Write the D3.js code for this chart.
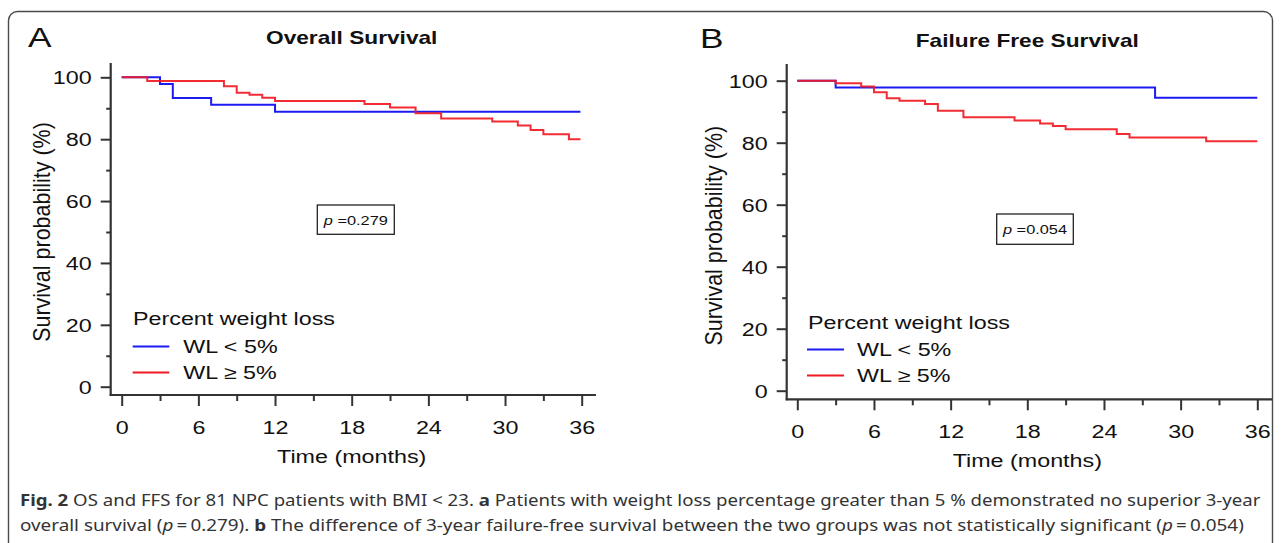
<!DOCTYPE html>
<html><head><meta charset="utf-8">
<script src="https://cdn.jsdelivr.net/npm/d3@7/dist/d3.min.js"></script>
<style>
html,body{margin:0;padding:0;background:#fff;overflow:hidden;}
svg{display:block;}
text{font-family:"Liberation Sans",Arial,Helvetica,sans-serif;fill:#111;}
</style></head><body>
<svg id="c" width="1281" height="543"></svg>
<script>
// ---------------- data ----------------
const timeTicks = [0, 6, 12, 18, 24, 30, 36];
const timeMinor = [3, 9, 15, 21, 27, 33];
const survTicks = [0, 20, 40, 60, 80, 100];
const survMinor = [10, 30, 50, 70, 90];
const groupNames = ["WL < 5%", "WL \u2265 5%"];
const legendTitle = "Percent weight loss";
const panelTitles = ["Overall Survival", "Failure Free Survival"];
const panelLetters = ["A", "B"];
const pValues = ["0.279", "0.054"];

// Overall survival (panel A)
const osLowTime  = [0, 3, 4, 7, 12, 35.9];
const osLowSurv  = [100, 97.8, 93.3, 91.1, 88.9, 88.9];
const osHighTime = [0, 2, 8, 9, 10, 11, 12, 19, 21, 23, 25, 29, 31, 32, 33, 35, 35.9];
const osHighSurv = [100, 98.8, 97.1, 95.0, 94.4, 93.4, 92.3, 91.4, 90.2, 88.4, 86.7, 85.7, 84.4, 83.0, 81.6, 80.0, 80.0];

// Failure free survival (panel B)
const ffsLowTime  = [0, 3, 28, 36];
const ffsLowSurv  = [100, 97.8, 94.5, 94.5];
const ffsHighTime = [0, 3, 5, 6, 7, 8, 10, 11, 13, 17, 19, 20, 21, 25, 26, 32, 36];
const ffsHighSurv = [100, 99.2, 98.1, 96.3, 94.3, 93.5, 92.5, 90.3, 88.2, 87.2, 86.2, 85.4, 84.3, 82.8, 81.7, 80.5, 80.5];

// ---------------- layout ----------------
const SX = 1.26;           // horizontal stretch of the original raster text
const FS = 18.5;           // general font size
const colors = ["#1c1cf2", "#f01a22"];

const panels = [
  { x0: 121.7, x1: 581.7, yTop: 77.3, yBot: 386.7, axisX: 110.7, axisY: 395, axisTopY: 63, axisRight: 596,
    letterX: 28, letterY: 47, titleY: 44, yLabX: 50,
    legX: 133, legTitleY: 325, legRows: [353, 379], lineX: [132.7, 169.3], legTextX: 183.3,
    pBox: [317.3, 205, 77, 29.3],
    low: [osLowTime, osLowSurv], high: [osHighTime, osHighSurv] },
  { x0: 797.3, x1: 1257.3, yTop: 80.7, yBot: 390.7, axisX: 786.7, axisY: 399.3, axisTopY: 64, axisRight: 1272,
    letterX: 700, letterY: 48, titleY: 46.7, yLabX: 722,
    legX: 808, legTitleY: 329, legRows: [356, 382], lineX: [807, 844], legTextX: 857,
    pBox: [996.7, 214, 76.6, 30.3],
    low: [ffsLowTime, ffsLowSurv], high: [ffsHighTime, ffsHighSurv] }
];

const svg = d3.select("#c");

// frame
svg.append("rect").attr("x", 8.5).attr("y", 11.5).attr("width", 1264).attr("height", 600)
  .attr("rx", 9).attr("fill", "none").attr("stroke", "#4a4a4a").attr("stroke-width", 1.4);

function stretch(sel, sx) {
  sel.each(function () {
    const t = d3.select(this);
    const x = +t.attr("x") || 0, y = +t.attr("y") || 0;
    t.attr("x", 0).attr("y", 0).attr("transform", `translate(${x},${y}) scale(${sx},1)`);
  });
}

panels.forEach((p, i) => {
  const x = d3.scaleLinear().domain([0, 36]).range([p.x0, p.x1]);
  const y = d3.scaleLinear().domain([0, 100]).range([p.yBot, p.yTop]);
  const g = svg.append("g");

  // axis lines
  g.append("line").attr("x1", p.axisX).attr("x2", p.axisX).attr("y1", p.axisTopY).attr("y2", p.axisY + 1)
    .attr("stroke", "#333").attr("stroke-width", 2.2);
  g.append("line").attr("x1", p.axisX - 1).attr("x2", p.axisRight).attr("y1", p.axisY).attr("y2", p.axisY)
    .attr("stroke", "#333").attr("stroke-width", 2.2);

  // x axis ticks
  const gx = g.append("g").attr("transform", `translate(0,${p.axisY})`).attr("color", "#333")
    .call(d3.axisBottom(x).tickValues(timeTicks).tickSize(11).tickPadding(0));
  gx.select(".domain").remove();
  gx.selectAll("line").attr("stroke-width", 2);
  gx.selectAll("text").attr("dy", null).attr("y", 38.5).style("font-size", FS + "px").attr("fill", "#111");
  stretch(gx.selectAll("text"), SX);
  const gxm = g.append("g").attr("transform", `translate(0,${p.axisY})`).attr("color", "#333")
    .call(d3.axisBottom(x).tickValues(timeMinor).tickSize(6).tickFormat(""));
  gxm.select(".domain").remove();
  gxm.selectAll("line").attr("stroke-width", 2);

  // y axis ticks
  const gy = g.append("g").attr("transform", `translate(${p.axisX},0)`).attr("color", "#333")
    .call(d3.axisLeft(y).tickValues(survTicks).tickSize(10).tickPadding(9));
  gy.select(".domain").remove();
  gy.selectAll("line").attr("stroke-width", 2);
  gy.selectAll("text").attr("dy", "0.35em").style("font-size", FS + "px").attr("fill", "#111");
  stretch(gy.selectAll("text"), SX);
  const gym = g.append("g").attr("transform", `translate(${p.axisX},0)`).attr("color", "#333")
    .call(d3.axisLeft(y).tickValues(survMinor).tickSize(4.5).tickFormat(""));
  gym.select(".domain").remove();
  gym.selectAll("line").attr("stroke-width", 2);

  // axis titles
  const xt = g.append("text").attr("x", (p.x0 + p.x1) / 2).attr("y", p.axisY + 67.5)
    .attr("text-anchor", "middle").style("font-size", FS + "px").text("Time (months)");
  stretch(xt, SX);
  g.append("text").attr("text-anchor", "middle").style("font-size", "21.5px")
    .attr("transform", `translate(${p.yLabX},${(p.yTop + p.yBot) / 2}) rotate(-90) scale(1,1.12)`)
    .text("Survival probability (%)");

  // panel letter and title
  const lt = g.append("text").attr("x", p.letterX).attr("y", p.letterY).style("font-size", "28px").text(panelLetters[i]);
  stretch(lt, SX);
  const tt = g.append("text").attr("x", (p.x0 + p.x1) / 2).attr("y", p.titleY).attr("text-anchor", "middle")
    .style("font-size", "18px").style("font-weight", "bold").text(panelTitles[i]);
  stretch(tt, SX);

  // curves
  const line = d3.line().x(d => x(d[0])).y(d => y(d[1])).curve(d3.curveStepAfter);
  [p.low, p.high].forEach((ser, k) => {
    const pts = d3.zip(ser[0], ser[1]);
    g.append("path").attr("d", line(pts)).attr("fill", "none")
      .attr("stroke", colors[k]).attr("stroke-width", 2).attr("stroke-opacity", k === 1 ? 0.92 : 1);
  });

  // p value box
  g.append("rect").attr("x", p.pBox[0]).attr("y", p.pBox[1]).attr("width", p.pBox[2]).attr("height", p.pBox[3])
    .attr("fill", "#fff").attr("stroke", "#222").attr("stroke-width", 1.3);
  const pt = g.append("text").attr("x", p.pBox[0] + p.pBox[2] / 2).attr("y", p.pBox[1] + p.pBox[3] / 2 + 5)
    .attr("text-anchor", "middle").style("font-size", "13px");
  pt.append("tspan").style("font-style", "italic").text("p");
  pt.append("tspan").text(" =" + pValues[i]);
  stretch(pt, SX);

  // legend
  const lg = g.append("text").attr("x", p.legX).attr("y", p.legTitleY).style("font-size", FS + "px").text(legendTitle);
  stretch(lg, SX);
  groupNames.forEach((nm, k) => {
    g.append("line").attr("x1", p.lineX[0]).attr("x2", p.lineX[1])
      .attr("y1", p.legRows[k] - 6.5).attr("y2", p.legRows[k] - 6.5)
      .attr("stroke", colors[k]).attr("stroke-width", 2);
    const t = g.append("text").attr("x", p.legTextX).attr("y", p.legRows[k]).style("font-size", FS + "px").text(nm);
    stretch(t, SX);
  });
});

// caption
const capFont = '"Liberation Sans Narrow","Noto Sans",sans-serif';
const cap1 = svg.append("text").attr("x", 20).attr("y", 506).style("font-family", capFont)
  .style("font-size", "16.5px").attr("fill", "#333");
cap1.append("tspan").style("font-weight", "bold").attr("fill", "#333").text("Fig. 2");
cap1.append("tspan").attr("fill", "#333").text(" OS and FFS for 81 NPC patients with BMI < 23. ");
cap1.append("tspan").style("font-weight", "bold").attr("fill", "#333").text("a");
cap1.append("tspan").attr("fill", "#333").text(" Patients with weight loss percentage greater than 5 % demonstrated no superior 3-year");
const cap2 = svg.append("text").attr("x", 20).attr("y", 531).style("font-family", capFont)
  .style("font-size", "16.5px").attr("fill", "#333");
cap2.append("tspan").attr("fill", "#333").text("overall survival (");
cap2.append("tspan").style("font-style", "italic").attr("fill", "#333").text("p");
cap2.append("tspan").attr("fill", "#333").text("\u2009=\u20090.279). ");
cap2.append("tspan").style("font-weight", "bold").attr("fill", "#333").text("b");
cap2.append("tspan").attr("fill", "#333").text(" The difference of 3-year failure-free survival between the two groups was not statistically significant (");
cap2.append("tspan").style("font-style", "italic").attr("fill", "#333").text("p");
cap2.append("tspan").attr("fill", "#333").text("\u2009=\u20090.054)");
[[cap1, 1242], [cap2, 1224]].forEach(([t, w]) => {
  const len = t.node().getComputedTextLength();
  const x = +t.attr("x"), yy = +t.attr("y");
  t.attr("x", 0).attr("y", 0).attr("transform", `translate(${x},${yy}) scale(${w / len},1)`);
});
</script>
</body></html>
